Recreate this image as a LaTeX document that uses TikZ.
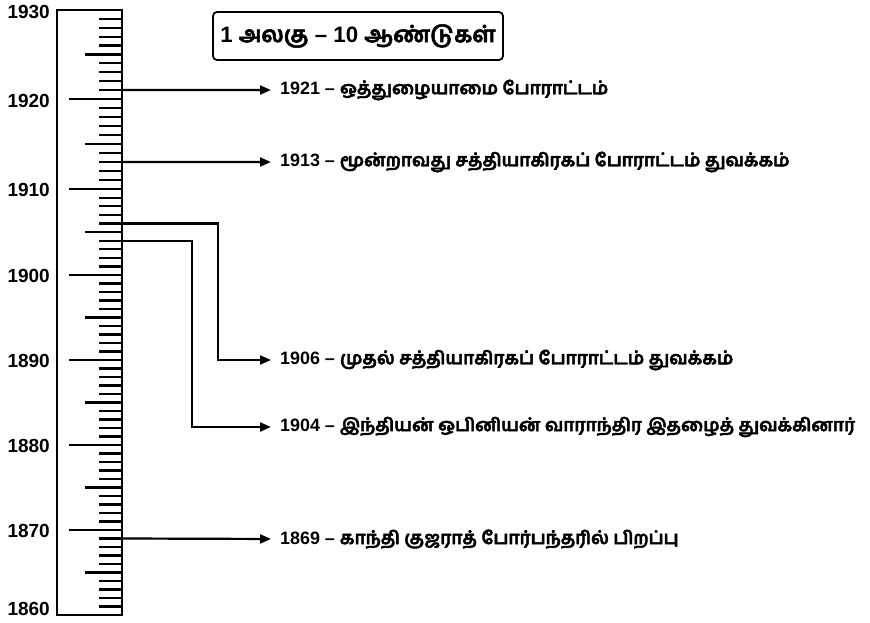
\documentclass[tikz,border=0pt]{standalone}
\usepackage{fontspec}
\setmainfont{Liberation Sans}
\newfontfamily\ta[Script=Tamil,FakeBold=2.3]{Hind Madurai}
\usetikzlibrary{arrows.meta}
\tikzset{
  ruler/.style={line width=2.2pt},
  tick/.style={line width=2.2pt},
  conn/.style={line width=2.2pt, -{Triangle[length=11pt,width=9pt]}, shorten >=9pt},
  ev/.style={anchor=west, inner sep=0pt, font=\fontsize{17.9}{22}\selectfont\bfseries},
  yr/.style={anchor=east, inner sep=0pt, font=\fontsize{19}{22}\selectfont\bfseries},
  titlebox/.style={draw, line width=1.8pt, rounded corners=4pt, minimum width=290pt, minimum height=48pt, inner sep=0pt, font=\fontsize{22.3}{26}\selectfont\bfseries}
}
\begin{document}
\begin{tikzpicture}[x=1pt,y=-1pt]
\useasboundingbox (0,0) rectangle (870,623);
% ruler frame
\draw[ruler] (57,10) rectangle (122,615);
% year ticks
\foreach \d/\ya/\yb in {1860/615/530,1870/530/445,1880/445/360,1890/360/275,1900/275/189,1910/189/99,1920/99/10}{
  \foreach \k in {1,...,9}{
    \pgfmathsetmacro{\yy}{\ya+(\yb-\ya)*\k/10}
    \ifnum\k=5
      \draw[tick] (85,\yy) -- (122,\yy);
    \else
      \draw[tick] (99,\yy) -- (122,\yy);
    \fi
  }
}
% decade ticks
\foreach \yy in {99,189,275,360,445,530}{
  \draw[tick] (69,\yy) -- (122,\yy);
}
% year labels
\node[yr] (y1930) at (50,12) {1930};
\node[yr] (y1920) at (50,101) {1920};
\node[yr] (y1910) at (50,190) {1910};
\node[yr] (y1900) at (50,276) {1900};
\node[yr] (y1890) at (50,361) {1890};
\node[yr] (y1880) at (50,446) {1880};
\node[yr] (y1870) at (50,531) {1870};
\node[yr] (y1860) at (50,609) {1860};
% title
\node[titlebox] (title) at (358,36) {1 {\ta அலகு} – 10 {\ta ஆண்டுகள்}};
% ruler anchor points
\coordinate (r1921) at (122,90.1);
\coordinate (r1913) at (122,161.9);
\coordinate (r1906) at (122,223.4);
\coordinate (r1904) at (122,240.6);
\coordinate (r1869) at (122,538.5);
\coordinate (b1906) at (218,360);
\coordinate (b1904) at (192,427);
% events
\node[ev] (e1921) at (280,90) {1921 – {\ta ஒத்துழையாமை போராட்டம்}};
\node[ev] (e1913) at (280,162) {1913 – {\ta மூன்றாவது சத்தியாகிரகப் போராட்டம் துவக்கம்}};
\node[ev] (e1906) at (280,360) {1906 – {\ta முதல் சத்தியாகிரகப் போராட்டம் துவக்கம்}};
\node[ev] (e1904) at (280,427) {1904 – {\ta இந்தியன் ஒபினியன் வாராந்திர இதழைத் துவக்கினார்}};
\node[ev] (e1869) at (280,539) {1869 – {\ta காந்தி குஜராத் போர்பந்தரில் பிறப்பு}};
% connectors
\draw[conn] (r1921) -- (e1921.west);
\draw[conn] (r1913) -- (e1913.west);
\draw[conn] (r1906) -| (b1906) -- (e1906.west);
\draw[conn] (r1904) -| (b1904) -- (e1904.west);
\draw[conn] (r1869) -- (e1869.west);
\end{tikzpicture}
\end{document}
